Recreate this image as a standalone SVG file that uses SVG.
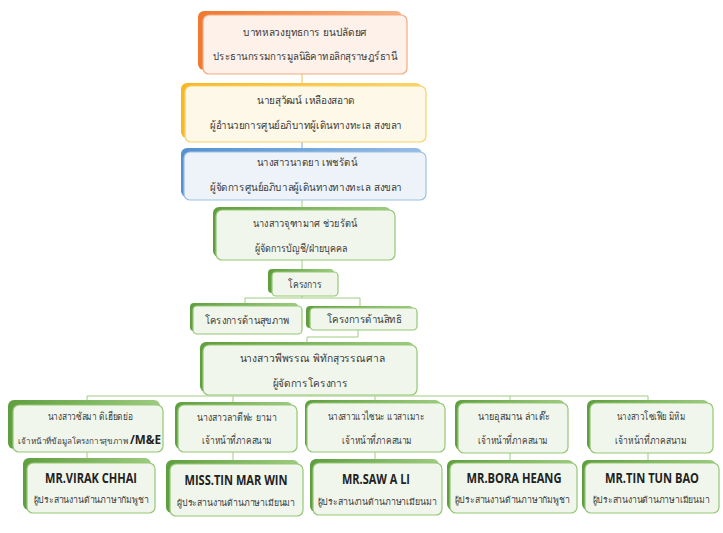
<svg xmlns="http://www.w3.org/2000/svg" width="723" height="533" viewBox="0 0 723 533">
<defs>
<linearGradient id="gO" x1="0" y1="0" x2="1" y2="0"><stop offset="0" stop-color="#f0782f"/><stop offset="1" stop-color="#f7b184"/></linearGradient>
<linearGradient id="gY" x1="0" y1="0" x2="1" y2="0"><stop offset="0" stop-color="#f7b825"/><stop offset="1" stop-color="#fbd467"/></linearGradient>
<linearGradient id="gB" x1="0" y1="0" x2="1" y2="0"><stop offset="0" stop-color="#5591cf"/><stop offset="1" stop-color="#96bce4"/></linearGradient>
<linearGradient id="gG" x1="0" y1="0" x2="1" y2="0"><stop offset="0" stop-color="#5f9e3f"/><stop offset="1" stop-color="#9ccb7f"/></linearGradient>
<style>
.t{font-family:"DejaVu Sans","Noto Sans",sans-serif;font-size:10.5px;fill:#3a3a3a;text-anchor:middle}
.s{font-size:9px}
.n{font-family:"Open Sans","Liberation Sans",sans-serif;font-size:13.5px;font-weight:bold;fill:#222;text-anchor:middle}
.so{fill:url(#gO)}.sy{fill:url(#gY)}.sb{fill:url(#gB)}.sg{fill:url(#gG)}
.bo{fill:#fdf1ea;stroke:#f5a97c;stroke-width:1.2}
.by{fill:#fdf8e8;stroke:#f8d36a;stroke-width:1.2}
.bb{fill:#eef3f9;stroke:#9cc1e4;stroke-width:1.2}
.bg{fill:#f0f6ec;stroke:#95c775;stroke-width:1.2}
.c{fill:none;stroke:#9fcc82;stroke-width:1}
.c1{fill:none;stroke:#f2c04f;stroke-width:1}
.c2{fill:none;stroke:#7aa7d8;stroke-width:1}
</style>
</defs>
<g id="connectors">
<line class="c1" x1="302" y1="74" x2="302" y2="86"/>
<line class="c2" x1="302" y1="142" x2="302" y2="150"/>
<line class="c" x1="302" y1="200" x2="302" y2="208"/>
<line class="c" x1="302" y1="260" x2="302" y2="270"/>
<line class="c" x1="302" y1="296" x2="302" y2="298"/>
<polyline class="c" points="245,304 245,298 360,298 360,306"/>
<polyline class="c" points="358,330 358,337 307,337 307,344"/>
<line class="c" x1="310" y1="395" x2="310" y2="396"/>
<polyline class="c" points="87,401 87,396 648,396 648,401"/>
<line class="c" x1="233" y1="396" x2="233" y2="403"/>
<line class="c" x1="375" y1="396" x2="375" y2="401"/>
<line class="c" x1="510" y1="396" x2="510" y2="401"/>
<line class="c" x1="87" y1="452" x2="87" y2="459"/>
<line class="c" x1="233" y1="452" x2="233" y2="461"/>
<line class="c" x1="375" y1="452" x2="375" y2="460"/>
<line class="c" x1="510" y1="453" x2="510" y2="461"/>
<line class="c" x1="648" y1="453" x2="648" y2="461"/>
</g>
<g id="n1">
<rect class="so" x="198" y="11" width="204" height="59" rx="6"/>
<rect class="bo" x="203" y="15" width="204" height="59" rx="6"/>
<text class="t" x="305" y="36" textLength="124" lengthAdjust="spacingAndGlyphs">บาทหลวงยุทธการ ยนปลัดยศ</text>
<text class="t" x="305" y="60" textLength="184" lengthAdjust="spacingAndGlyphs">ประธานกรรมการมูลนิธิคาทอลิกสุราษฎร์ธานี</text>
</g>
<g id="n2">
<rect class="sy" x="181" y="83" width="241" height="55" rx="6"/>
<rect class="by" x="185" y="86" width="241" height="56" rx="6"/>
<text class="t" x="306" y="104" textLength="98" lengthAdjust="spacingAndGlyphs">นายสุวัฒน์ เหลืองสอาด</text>
<text class="t" x="306" y="129" textLength="192" lengthAdjust="spacingAndGlyphs">ผู้อำนวยการศูนย์อภิบาทผู้เดินทางทะเล สงขลา</text>
</g>
<g id="n3">
<rect class="sb" x="181" y="148" width="241" height="49" rx="6"/>
<rect class="bb" x="184" y="152" width="242" height="48" rx="6"/>
<text class="t" x="307" y="166" textLength="100" lengthAdjust="spacingAndGlyphs">นางสาวนาตยา เพชรัตน์</text>
<text class="t" x="306" y="191" textLength="192" lengthAdjust="spacingAndGlyphs">ผู้จัดการศูนย์อภิบาลผู้เดินทางทางทะเล สงขลา</text>
</g>
<g id="n4">
<rect class="sg" x="213" y="207" width="178" height="50" rx="6"/>
<rect class="bg" x="216" y="210" width="179" height="50" rx="6"/>
<text class="t" x="305" y="227" textLength="104" lengthAdjust="spacingAndGlyphs">นางสาวจุฑามาศ ช่วยรัตน์</text>
<text class="t" x="301" y="252" textLength="92" lengthAdjust="spacingAndGlyphs">ผู้จัดการบัญชี/ฝ่ายบุคคล</text>
</g>
<g id="n5">
<rect class="sg" x="268" y="269" width="66" height="24" rx="4"/>
<rect class="bg" x="272" y="272" width="66" height="24" rx="4"/>
<text class="t" x="305" y="288" textLength="34" lengthAdjust="spacingAndGlyphs">โครงการ</text>
</g>
<g id="n6a">
<rect class="sg" x="190" y="303" width="108" height="28" rx="4"/>
<rect class="bg" x="193" y="306" width="109" height="28" rx="4"/>
<text class="t" x="247" y="324" textLength="85" lengthAdjust="spacingAndGlyphs">โครงการด้านสุขภาพ</text>
</g>
<g id="n6b">
<rect class="sg" x="306" y="306" width="107" height="22" rx="4"/>
<rect class="bg" x="310" y="308" width="107" height="22" rx="4"/>
<text class="t" x="364" y="323" textLength="75" lengthAdjust="spacingAndGlyphs">โครงการด้านสิทธิ</text>
</g>
<g id="n7">
<rect class="sg" x="200" y="342" width="214" height="50" rx="6"/>
<rect class="bg" x="203" y="345" width="214" height="50" rx="6"/>
<text class="t" x="312" y="362" textLength="145" lengthAdjust="spacingAndGlyphs">นางสาวพีพรรณ พิทักสุวรรณศาล</text>
<text class="t" x="310" y="387" textLength="75" lengthAdjust="spacingAndGlyphs">ผู้จัดการโครงการ</text>
</g>
<g id="n8">
<rect class="sg" x="8" y="400" width="152" height="49" rx="6"/>
<rect class="bg" x="13" y="405" width="150" height="47" rx="6"/>
<text class="t" x="90" y="420" textLength="85" lengthAdjust="spacingAndGlyphs">นางสาวซัลมา ดิเฮียดย่อ</text>
<text class="t" x="18" y="444" style="text-anchor:start;font-size:8.2px" textLength="110" lengthAdjust="spacingAndGlyphs">เจ้าหน้าที่ข้อมูลโครงการสุขภาพ</text>
<text class="n" x="130" y="444" style="text-anchor:start;font-size:12px" textLength="31" lengthAdjust="spacingAndGlyphs">/M&amp;E</text>
</g>
<g id="n9">
<rect class="sg" x="175" y="402" width="118" height="47" rx="6"/>
<rect class="bg" x="178" y="405" width="119" height="47" rx="6"/>
<text class="t" x="237" y="421" textLength="80" lengthAdjust="spacingAndGlyphs">นางสาวลาตีฟะ ยามา</text>
<text class="t" x="237" y="444" textLength="70" lengthAdjust="spacingAndGlyphs">เจ้าหน้าที่ภาคสนาม</text>
</g>
<g id="n10">
<rect class="sg" x="305" y="400" width="136" height="49" rx="6"/>
<rect class="bg" x="307" y="403" width="138" height="49" rx="6"/>
<text class="t" x="376" y="420" textLength="97" lengthAdjust="spacingAndGlyphs">นางสาวแวไซนะ แวสาเมาะ</text>
<text class="t" x="377" y="444" textLength="70" lengthAdjust="spacingAndGlyphs">เจ้าหน้าที่ภาคสนาม</text>
</g>
<g id="n11">
<rect class="sg" x="455" y="400" width="110" height="50" rx="6"/>
<rect class="bg" x="458" y="403" width="110" height="50" rx="6"/>
<text class="t" x="514" y="420" textLength="72" lengthAdjust="spacingAndGlyphs">นายอุสมาน ล่าเต๊ะ</text>
<text class="t" x="513" y="444" textLength="70" lengthAdjust="spacingAndGlyphs">เจ้าหน้าที่ภาคสนาม</text>
</g>
<g id="n12">
<rect class="sg" x="587" y="400" width="122" height="50" rx="6"/>
<rect class="bg" x="590" y="403" width="123" height="50" rx="6"/>
<text class="t" x="651" y="420" textLength="68" lengthAdjust="spacingAndGlyphs">นางสาวโซเฟีย มิหิม</text>
<text class="t" x="651" y="444" textLength="72" lengthAdjust="spacingAndGlyphs">เจ้าหน้าที่ภาคสนาม</text>
</g>
<g id="n13">
<rect class="sg" x="23" y="458" width="128" height="52" rx="6"/>
<rect class="bg" x="27" y="463" width="128" height="50" rx="6"/>
<text class="n" x="91" y="483" textLength="92" lengthAdjust="spacingAndGlyphs">MR.VIRAK CHHAI</text>
<text class="t s" x="91" y="503" textLength="115" lengthAdjust="spacingAndGlyphs">ผู้ประสานงานด้านภาษากัมพูชา</text>
</g>
<g id="n14">
<rect class="sg" x="166" y="460" width="133" height="53" rx="6"/>
<rect class="bg" x="170" y="464" width="133" height="52" rx="6"/>
<text class="n" x="236" y="485" textLength="103" lengthAdjust="spacingAndGlyphs">MISS.TIN MAR WIN</text>
<text class="t s" x="236" y="506" textLength="118" lengthAdjust="spacingAndGlyphs">ผู้ประสานงานด้านภาษาเมียนมา</text>
</g>
<g id="n15">
<rect class="sg" x="310" y="459" width="129" height="53" rx="6"/>
<rect class="bg" x="313" y="463" width="129" height="52" rx="6"/>
<text class="n" x="376" y="484" textLength="68" lengthAdjust="spacingAndGlyphs">MR.SAW A LI</text>
<text class="t s" x="377" y="505" textLength="119" lengthAdjust="spacingAndGlyphs">ผู้ประสานงานด้านภาษาเมียนมา</text>
</g>
<g id="n16">
<rect class="sg" x="447" y="460" width="127" height="50" rx="6"/>
<rect class="bg" x="450" y="463" width="127" height="50" rx="6"/>
<text class="n" x="514" y="483" textLength="95" lengthAdjust="spacingAndGlyphs">MR.BORA HEANG</text>
<text class="t s" x="512" y="503" textLength="115" lengthAdjust="spacingAndGlyphs">ผู้ประสานงานด้านภาษากัมพูชา</text>
</g>
<g id="n17">
<rect class="sg" x="582" y="460" width="134" height="50" rx="6"/>
<rect class="bg" x="585" y="463" width="134" height="50" rx="6"/>
<text class="n" x="652" y="483" textLength="94" lengthAdjust="spacingAndGlyphs">MR.TIN TUN BAO</text>
<text class="t s" x="651" y="503" textLength="117" lengthAdjust="spacingAndGlyphs">ผู้ประสานงานด้านภาษาเมียนมา</text>
</g>
</svg>
